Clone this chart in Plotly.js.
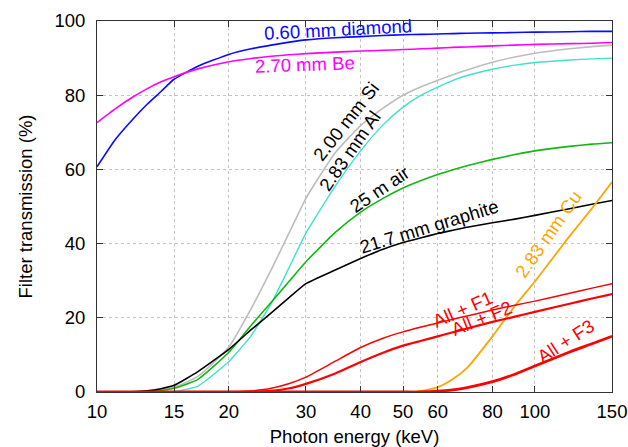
<!DOCTYPE html>
<html>
<head>
<meta charset="utf-8">
<script src="https://cdn.plot.ly/plotly-3.0.1.min.js"></script>
<style>html,body{margin:0;padding:0;background:#fff;}#chart{width:628px;height:447px;}</style>
</head>
<body>
<div id="chart"></div>
<script>
// Photon energy grid (keV)
const energy = [10, 11, 12, 13, 14, 15, 17, 20, 22.5, 25, 27.5, 30, 35, 40, 45, 50, 55, 60, 65, 70, 80, 90, 100, 120, 135, 150];

// Filter transmission (%)
const diamond  = [60.7, 68.0, 73.2, 77.5, 81.0, 84.3, 87.8, 91.0, 92.5, 93.5, 94.3, 94.9, 95.5, 95.8, 96.1, 96.3, 96.4, 96.5, 96.6, 96.7, 96.8, 96.9, 97.0, 97.1, 97.2, 97.2];
const beryllium= [72.6, 76.3, 79.3, 81.7, 83.6, 85.0, 87.1, 89.0, 89.9, 90.5, 90.9, 91.2, 91.6, 91.9, 92.1, 92.3, 92.5, 92.7, 92.9, 93.0, 93.3, 93.5, 93.7, 93.9, 94.0, 94.2];
const silicon  = [0, 0, 0.05, 0.2, 0.6, 1.3, 4.2, 12.1, 22.5, 33.0, 43.0, 52.2, 64.5, 71.8, 76.5, 80.0, 82.3, 84.0, 85.5, 86.8, 88.9, 90.3, 91.3, 92.5, 93.1, 93.5];
const aluminium= [0, 0, 0, 0, 0, 0.1, 1.6, 8.2, 15.2, 23.9, 33.7, 42.8, 55.5, 65.0, 72.0, 76.8, 80.0, 82.2, 84.0, 85.3, 87.0, 88.1, 88.8, 89.5, 89.8, 90.0];
const air      = [0, 0, 0, 0.1, 0.4, 1.0, 3.4, 10.7, 18.0, 24.2, 29.9, 35.1, 43.0, 48.5, 52.2, 55.0, 57.0, 58.6, 59.9, 61.0, 62.7, 64.0, 65.0, 66.2, 66.8, 67.2];
const graphite = [0, 0, 0.05, 0.3, 0.9, 1.8, 5.5, 11.5, 16.8, 21.3, 25.5, 29.2, 32.9, 36.0, 38.5, 40.3, 41.6, 42.7, 43.6, 44.4, 45.6, 46.6, 47.6, 49.4, 50.6, 51.6];
const copper   = [0, 0, 0, 0, 0, 0, 0, 0, 0, 0, 0, 0, 0, 0, 0, 0, 0.3, 1.3, 3.5, 6.5, 15.0, 23.2, 29.8, 42.0, 49.5, 56.6];
const allF1    = [0, 0, 0, 0, 0, 0, 0, 0, 0.3, 1.0, 2.3, 4.0, 8.3, 12.0, 14.5, 16.2, 17.5, 18.6, 19.6, 20.5, 22.1, 23.4, 24.5, 26.6, 28.0, 29.2];
const allF2    = [0, 0, 0, 0, 0, 0, 0, 0, 0.05, 0.3, 1.0, 2.2, 5.0, 8.1, 10.6, 12.5, 13.8, 15.0, 16.1, 17.1, 18.9, 20.3, 21.6, 23.8, 25.2, 26.4];
const allF3    = [0, 0, 0, 0, 0, 0, 0, 0, 0, 0, 0, 0, 0, 0, 0, 0, 0, 0.2, 0.6, 1.2, 2.8, 4.8, 7.0, 10.8, 13.0, 15.0];

const xTicks = [10, 15, 20, 30, 40, 50, 60, 80, 100, 150];
const yTicks = [0, 20, 40, 60, 80, 100];

const series = [
  {y: diamond,   color: '#0a0aff', w: 1.6},
  {y: beryllium, color: '#ff00ff', w: 1.6},
  {y: silicon,   color: '#bdbdbd', w: 1.6},
  {y: aluminium, color: '#40e0d0', w: 1.4},
  {y: air,       color: '#10b810', w: 1.6},
  {y: graphite,  color: '#000000', w: 1.6},
  {y: copper,    color: '#ffa500', w: 1.8},
  {y: allF1,     color: '#ff0000', w: 1.5},
  {y: allF2,     color: '#ff0000', w: 2.2},
  {y: allF3,     color: '#ff0000', w: 2.8}
];

const traces = series.map(s => ({
  x: energy, y: s.y, type: 'scatter', mode: 'lines',
  line: {color: s.color, width: s.w, shape: 'spline', smoothing: 0.5},
  hoverinfo: 'skip', showlegend: false
}));

const F = 'Liberation Sans, Arial, sans-serif';
const FS = 18.5;
function lab(text, x, y, ang, color) {
  return {text: text, xref: 'paper', yref: 'paper', x: x, y: y, textangle: ang,
    showarrow: false, xanchor: 'center', yanchor: 'middle',
    font: {family: F, size: FS, color: color}};
}

const layout = {
  width: 628, height: 447,
  margin: {l: 97, r: 16, t: 21, b: 55},
  paper_bgcolor: '#fff', plot_bgcolor: '#fff',
  showlegend: false,
  font: {family: F, size: FS, color: '#000'},
  xaxis: {
    type: 'log', range: [1, Math.log10(150)],
    tickvals: xTicks, ticktext: xTicks.map(String),
    ticks: 'inside', ticklen: 6, tickcolor: '#333', mirror: 'allticks',
    showline: true, linecolor: '#333', linewidth: 1,
    showgrid: true, gridcolor: '#c4c4c4', griddash: 'dot', gridwidth: 1,
    zeroline: false, automargin: false, ticklabelstandoff: 3,
    tickfont: {family: F, size: FS, color: '#000'},
    title: {text: 'Photon energy (keV)', font: {family: F, size: FS, color: '#000'}, standoff: 13}
  },
  yaxis: {
    range: [0, 100], tickvals: yTicks,
    ticks: 'inside', ticklen: 6, tickcolor: '#333', mirror: 'allticks',
    showline: true, linecolor: '#333', linewidth: 1,
    showgrid: true, gridcolor: '#c4c4c4', griddash: 'dot', gridwidth: 1,
    zeroline: false, automargin: false, ticklabelstandoff: 7,
    tickfont: {family: F, size: FS, color: '#000'},
    title: {text: 'Filter transmission (%)', font: {family: F, size: FS, color: '#000'}, standoff: 16}
  },
  annotations: [
    lab('0.60 mm diamond', 0.468, 0.978, -3, '#0a0aff'),
    lab('2.70 mm Be', 0.404, 0.882, -2, '#ff00ff'),
    lab('2.00 mm Si', 0.483, 0.730, -52, '#000'),
    lab('2.83 mm Al', 0.491, 0.652, -55, '#000'),
    lab('25 m air', 0.548, 0.547, -34, '#000'),
    lab('21.7 mm graphite', 0.645, 0.447, -17, '#000'),
    lab('2.83 mm Cu', 0.876, 0.425, -55, '#ffa500'),
    lab('All + F1', 0.709, 0.223, -24, '#ff0000'),
    lab('All + F2', 0.746, 0.199, -22, '#ff0000'),
    lab('All + F3', 0.909, 0.137, -33, '#ff0000')
  ]
};

Plotly.newPlot('chart', traces, layout, {displayModeBar: false, staticPlot: true});
</script>
</body>
</html>
